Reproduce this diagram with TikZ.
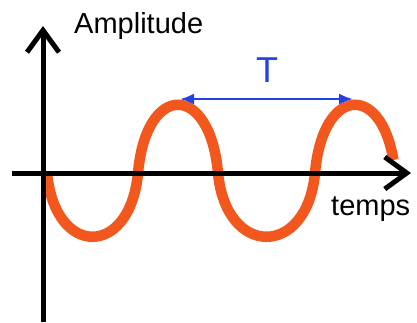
\documentclass[tikz,border=0pt]{standalone}
\usepackage{fontspec}
\setmainfont{Liberation Sans}
\usetikzlibrary{arrows.meta}
\definecolor{wave}{RGB}{242,88,30}
\definecolor{period}{RGB}{35,65,230}
\begin{document}
\begin{tikzpicture}[x=1pt,y=-1pt,
    axis/.style={line width=5pt, -{Straight Barb[length=22pt,width=32pt]}},
    lbl/.style={anchor=base west, inner sep=0pt, font=\fontsize{29}{32}\selectfont}]
    \useasboundingbox (0,0) rectangle (417,322);
    \coordinate (Ybot) at (43,322);
    \coordinate (Ytop) at (43,26);
    \coordinate (Xleft) at (12,173);
    \coordinate (Xright) at (411,173);
    \coordinate (P1) at (180,99);
    \coordinate (P2) at (353,99);
    \draw[line width=10.5pt, wave] (47,173) .. controls (55,258) and (130,258) .. (138,173)
        .. controls (146,82) and (210,82) .. (218,173)
        .. controls (226,258) and (307,258) .. (315,173)
        .. controls (322.6,86.6) and (380.7,82.2) .. (393.4,160);
    \draw[axis] (Ybot) -- (Ytop);
    \draw[axis] (Xleft) -- (Xright);
    \draw[period, line width=2.5pt, {Latex[length=14pt,width=11pt]}-{Latex[length=14pt,width=11pt]}] (P1) -- (P2);
    \node[lbl] (amp) at (74,33) {Amplitude};
    \node[lbl] (temps) at (331,215) {temps};
    \node[anchor=base, inner sep=0pt, text=period, font=\fontsize{36}{40}\selectfont] (T) at (267,82) {T};
\end{tikzpicture}
\end{document}
